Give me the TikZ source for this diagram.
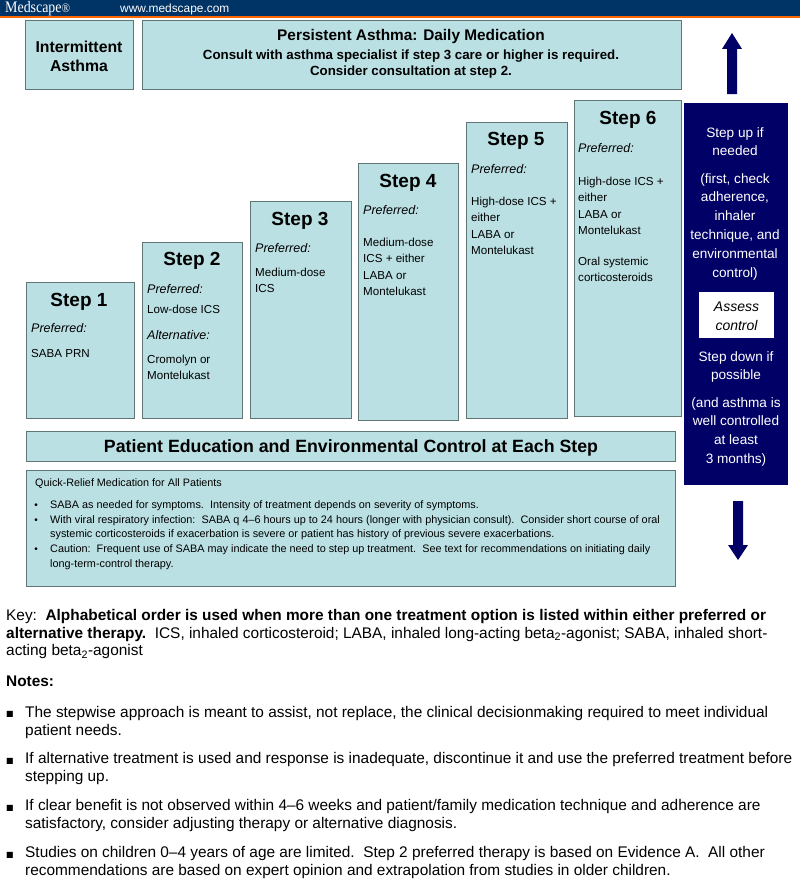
\documentclass[tikz,border=0pt]{standalone}
\usepackage{fontspec}
\setmainfont{Liberation Sans}
\definecolor{boxfill}{HTML}{BBE0E3}
\definecolor{boxline}{HTML}{5F7676}
\definecolor{navyb}{HTML}{000066}
\definecolor{headb}{HTML}{003366}
\definecolor{heado}{HTML}{FF6600}
\newcommand{\fs}[2]{\fontsize{#1}{#2}\selectfont}
\tikzset{x=1pt,y=-1pt,
 panel/.style={fill=boxfill,draw=boxline,line width=1pt},
 title/.style={font=\bfseries\fs{19}{21},anchor=base,inner sep=0pt},
 pref/.style={font=\itshape\fs{12.5}{14},anchor=base west,inner sep=0pt},
 drug/.style={font=\fs{11.6}{16.2},anchor=north west,align=left,inner sep=0pt},
 side/.style={font=\fs{13.6}{18.8},text=white,anchor=north,align=center,inner sep=0pt},
 note/.style={font=\fs{15.4}{17.7},anchor=north west,align=left,inner sep=0pt},
 keytext/.style={font=\fs{15.4}{17.7},anchor=north west,align=left,inner sep=0pt},
 bull/.style={font=\fs{10}{12},anchor=base,inner sep=0pt},
 quick/.style={font=\fs{10.85}{14.7},anchor=north west,align=left,inner sep=0pt},
 marker/.style={font=\fontspec{DejaVu Sans}\fs{8}{8},anchor=base,inner sep=0pt},
}
\begin{document}
\begin{tikzpicture}
\useasboundingbox (0,0) rectangle (800,883);
\fill[white] (0,0) rectangle (800,883);
% header
\fill[headb] (0,0) rectangle (800,16);
\fill[heado] (0,16) rectangle (800,18);
\node[font=\fontspec{Liberation Serif}\fs{16}{16},text=white,anchor=base west,inner sep=0pt] (logo) at (5,13) {\scalebox{.87}[1]{Medscape\fs{13}{13}®}};
\node[font=\fs{11.9}{12},text=white,anchor=base west,inner sep=0pt] (url) at (120,12.5) {www.medscape.com};
% top boxes
\path[panel] (25,21) rectangle (133,89);
\path[panel] (142,21) rectangle (681,89);
\node[font=\bfseries\fs{15.8}{19},align=center,inner sep=0pt] (inter) at (79,56) {Intermittent\\Asthma};
\node[font=\bfseries\fs{15.4}{17},anchor=base,inner sep=0pt] (pers) at (411,41) {Persistent Asthma: Daily Medication};
\node[font=\bfseries\fs{13.3}{16},align=center,anchor=north,inner sep=0pt] (cons) at (411,50) {Consult with asthma specialist if step 3 care or higher is required.\\Consider consultation at step 2.};
% steps
\path[panel] (26,282) rectangle (134,418);
\path[panel] (142,242) rectangle (242,418);
\path[panel] (250,201) rectangle (351,418);
\path[panel] (358,163) rectangle (458,420);
\path[panel] (466,122) rectangle (567,418);
\path[panel] (574,100) rectangle (681,416);
\node[title] (s1) at (79,306) {Step 1};
\node[pref] (p1) at (31,332) {Preferred:};
\node[drug] (d1) at (31,349) {SABA PRN};
\node[title] (s2) at (192,265) {Step 2};
\node[pref] (p2) at (147,293) {Preferred:};
\node[drug] (d2) at (147,305) {Low-dose ICS};
\node[pref] (a2) at (147,339) {Alternative:};
\node[drug] (e2) at (147,354.5) {Cromolyn or\\Montelukast};
\node[title] (s3) at (300,225) {Step 3};
\node[pref] (p3) at (255,252) {Preferred:};
\node[drug] (d3) at (255,268) {Medium-dose\\ICS};
\node[title] (s4) at (408,187) {Step 4};
\node[pref] (p4) at (363,214) {Preferred:};
\node[drug] (d4) at (363,238) {Medium-dose\\ICS + either\\LABA or\\Montelukast};
\node[title] (s5) at (516,145) {Step 5};
\node[pref] (p5) at (471,173) {Preferred:};
\node[drug] (d5) at (471,197) {High-dose ICS +\\either\\LABA or\\Montelukast};
\node[title] (s6) at (628,124) {Step 6};
\node[pref] (p6) at (578,152) {Preferred:};
\node[drug] (d6) at (578,177) {High-dose ICS +\\either\\LABA or\\Montelukast\\[15pt]Oral systemic\\corticosteroids};
% bottom panels
\path[panel] (26,431) rectangle (675,461);
\path[panel] (26,470) rectangle (675,586);
\node[font=\bfseries\fs{17.75}{18},anchor=base,inner sep=0pt] (edu) at (351,452) {Patient Education and Environmental Control at Each Step};
\node[font=\fs{10.8}{13},anchor=base west,inner sep=0pt] (qt) at (35,486) {Quick-Relief Medication for All Patients};
\node[bull] (b1) at (36,508) {•};
\node[bull] (b2) at (36,523) {•};
\node[bull] (b3) at (36,552) {•};
\node[quick] (q1) at (50,500.5) {SABA as needed for symptoms.\ \ Intensity of treatment depends on severity of symptoms.\\
With viral respiratory infection:\ \ SABA q 4–6 hours up to 24 hours (longer with physician consult).\ \ Consider short course of oral\\
systemic corticosteroids if exacerbation is severe or patient has history of previous severe exacerbations.\\
Caution:\ \ Frequent use of SABA may indicate the need to step up treatment.\ \ See text for recommendations on initiating daily\\
long-term-control therapy.};
% side panel
\fill[navyb] (684,103) rectangle (788,485);
\fill[white] (699,292) rectangle (774,338);
\node[font=\itshape\fs{14}{19},align=center,inner sep=0pt] (assess) at (736.5,316) {Assess\\control};
\node[side] (up1) at (735,127) {Step up if\\needed};
\node[side] (up2) at (735,173) {(first, check\\adherence,\\inhaler\\technique, and\\environmental\\control)};
\node[side] (dn1) at (736,351) {Step down if\\possible};
\node[side] (dn2) at (736,397) {(and asthma is\\well controlled\\at least\\3 months)};
% arrows
\fill[navyb] (727,94) -- (727,49) -- (722,49) -- (732,33) -- (742,49) -- (737,49) -- (737,94) -- cycle;
\fill[navyb] (733,501) -- (733,545) -- (728,545) -- (738,560) -- (748,545) -- (743,545) -- (743,501) -- cycle;
% key and notes
\node[keytext] (key) at (6,609) {Key:\ \ \textbf{Alphabetical order is used when more than one treatment option is listed within either preferred or}\\
\textbf{alternative therapy.}\ \ ICS, inhaled corticosteroid; LABA, inhaled long-acting beta\textsubscript{2}-agonist; SABA, inhaled short-\\
acting beta\textsubscript{2}-agonist};
\node[note,font=\bfseries\fs{15.4}{18}] (notes) at (6,675.5) {Notes:};
\node[marker] (m1) at (10,716) {■};
\node[marker] (m2) at (10,763) {■};
\node[marker] (m3) at (10,810) {■};
\node[marker] (m4) at (10,857) {■};
\node[note] (n1) at (25,706) {The stepwise approach is meant to assist, not replace, the clinical decisionmaking required to meet individual\\patient needs.};
\node[note] (n2) at (25,752.5) {If alternative treatment is used and response is inadequate, discontinue it and use the preferred treatment before\\stepping up.};
\node[note] (n3) at (25,799) {If clear benefit is not observed within 4–6 weeks and patient/family medication technique and adherence are\\satisfactory, consider adjusting therapy or alternative diagnosis.};
\node[note] (n4) at (25,846) {Studies on children 0–4 years of age are limited.\ \ Step 2 preferred therapy is based on Evidence A.\ \ All other\\recommendations are based on expert opinion and extrapolation from studies in older children.};
\end{tikzpicture}
\end{document}
